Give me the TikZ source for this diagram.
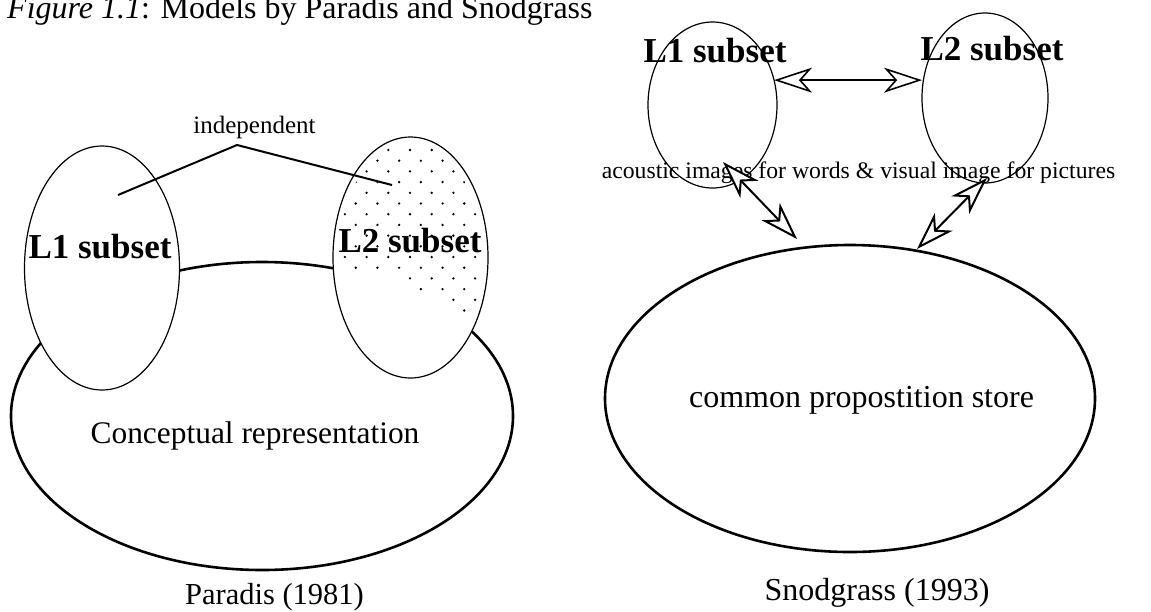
\documentclass[tikz,border=0pt]{standalone}
\usepackage{fontspec}
\setmainfont{Liberation Serif}
\usetikzlibrary{shapes.geometric,arrows.meta}
\tikzset{
  openhead/.tip={Stealth[length=38pt,width=25pt,inset=11pt,fill=white]},
  smallell/.style={ellipse, draw, line width=1.2pt, fill=white, inner sep=0pt, outer sep=0pt},
  bigell/.style={ellipse, draw, line width=2.6pt, inner sep=0pt, outer sep=0pt},
  lbl/.style={inner sep=0pt, anchor=base},
  boldlbl/.style={lbl, font=\fontsize{35}{40}\selectfont\bfseries},
  bracketline/.style={line width=2pt},
  horizarrow/.style={line width=1.6pt, {openhead}-{openhead}},
  diagarrow/.style={line width=2pt, {openhead}-{openhead}},
}
\begin{document}
\begin{tikzpicture}[x=1pt,y=-1pt]
\fill[white] (0,0) rectangle (1151,611);
\useasboundingbox (0,0) rectangle (1151,611);

% title
\node[lbl, anchor=base west, font=\fontsize{32}{38}\selectfont] (title) at (7,18) {\textit{Figure 1.1}: Models by Paradis and Snodgrass};

% ---------- left: Paradis ----------
\node[bigell, minimum width=502, minimum height=308] (bigL) at (262,416) {};
\node[smallell, minimum width=155, minimum height=244] (L1) at (102,268) {};
\node[smallell, minimum width=155, minimum height=241] (L2) at (410.5,257.5) {};

% dots in L2
\begin{scope}
  \clip (410.5,257.5) ellipse [x radius=72, y radius=115];
  \clip (320,120) -- (520,120) -- (520,345) -- (490,345) -- (453,310) -- (442,300) -- (410,289) -- (400,279) -- (395,272) -- (320,272) -- cycle;
  \foreach \k in {0,...,22} {
    \pgfmathsetmacro\xo{-10.85*mod(\k,2)}
    \foreach \i in {-4,...,4} {
      \fill ({388.3+21.7*\i+\xo},{150+10.7*\k}) circle[radius=1.3];
    }
  }
\end{scope}

\node[boldlbl] (L1txt) at (100,258) {L1 subset};
\node[boldlbl] (L2txt) at (410,252) {L2 subset};

\node[lbl, font=\fontsize{25}{30}\selectfont] (indep) at (254.5,133) {independent};
\coordinate (bA) at (118,195);
\coordinate (bP) at (237,145);
\coordinate (bB) at (392,185);
\draw[bracketline] (bA) -- (bP) -- (bB);

\node[lbl, font=\fontsize{31.4}{36}\selectfont] (concept) at (255,443) {Conceptual representation};
\node[lbl, font=\fontsize{30.5}{36}\selectfont] (paradis) at (274.5,604) {Paradis (1981)};

% ---------- right: Snodgrass ----------
\node[bigell, minimum width=490, minimum height=307] (store) at (850,398.5) {};
\node[smallell, minimum width=129, minimum height=166] (L1R) at (712.5,105) {};
\node[smallell, minimum width=126, minimum height=170] (L2R) at (985,98) {};

\node[boldlbl] (L1Rtxt) at (715,62) {L1 subset};
\node[boldlbl] (L2Rtxt) at (992,60) {L2 subset};

\node[lbl, font=\fontsize{23.7}{28}\selectfont] (acoustic) at (858.5,178) {acoustic images for words \& visual image for pictures};

\draw[horizarrow] (L1R.22) -- (L1R.22 -| L2R.west);

\coordinate (a1) at (723,162);
\coordinate (a2) at (797,239);
\coordinate (b1) at (987,178);
\coordinate (b2) at (917,249);
\draw[diagarrow] (a1) -- (a2);
\draw[diagarrow] (b1) -- (b2);

\node[lbl, font=\fontsize{32}{38}\selectfont] (storetxt) at (861.5,407) {common propostition store};
\node[lbl, font=\fontsize{32}{38}\selectfont] (snod) at (877,600) {Snodgrass (1993)};
\end{tikzpicture}
\end{document}
